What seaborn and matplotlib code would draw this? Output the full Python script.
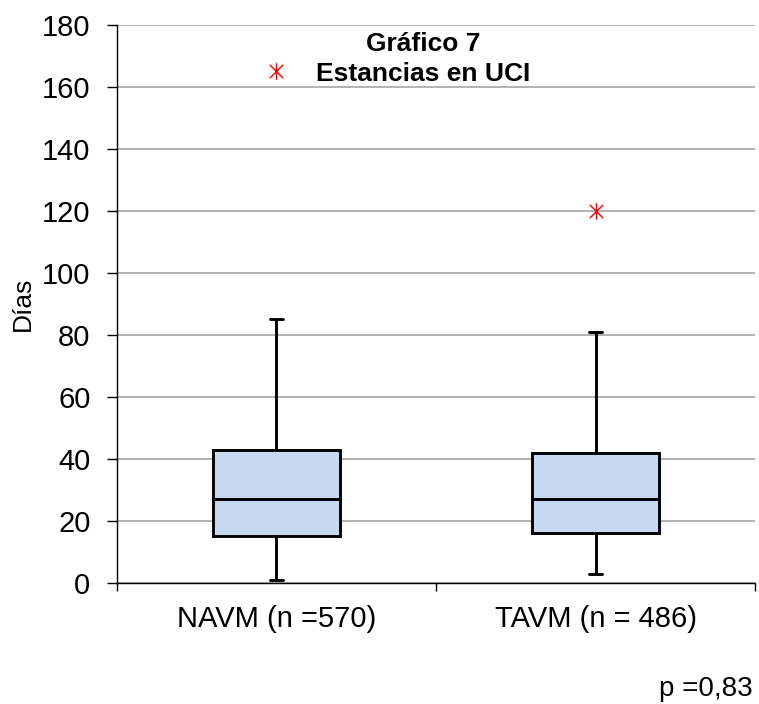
import numpy as np
import pandas as pd
import matplotlib
matplotlib.use('Agg')
import matplotlib.pyplot as plt
import seaborn as sns
from matplotlib.path import Path
from matplotlib.ticker import FixedLocator

# Datos (dias de estancia en UCI)
grupos = ['NAVM (n =570)', 'TAVM (n = 486)']
bigote_inf = [1, 3]
q1 = [15, 16]
mediana = [27, 27]
q3 = [43, 42]
bigote_sup = [85, 81]
atipicos = [165, 120]

y_ticks = list(range(0, 181, 20))

sns.set_style('white')
plt.rcParams['font.family'] = ['Liberation Sans', 'DejaVu Sans']
plt.rcParams['text.color'] = 'black'
plt.rcParams['axes.labelcolor'] = 'black'
plt.rcParams['xtick.color'] = 'black'
plt.rcParams['ytick.color'] = 'black'

# resumen de cinco numeros por grupo -> seaborn calcula la caja
filas = []
for i, g in enumerate(grupos):
    for v in [bigote_inf[i], q1[i], mediana[i], q3[i], bigote_sup[i]]:
        filas.append({'grupo': g, 'dias': v})
df = pd.DataFrame(filas)
df_out = pd.DataFrame({'grupo': grupos, 'dias': atipicos})

# marcador tipo Excel: aspa con linea vertical
M, L = Path.MOVETO, Path.LINETO
estrella = Path([(-1, -1), (1, 1), (-1, 1), (1, -1), (0, -1.25), (0, 1.25)],
                [M, L, M, L, M, L])

fig = plt.figure(figsize=(7.59, 7.04), dpi=100)
ax = fig.add_axes([0.154, 0.172, 0.841, 0.7925])

sns.boxplot(data=df, x='grupo', y='dias', order=grupos, whis=(0, 100),
            width=0.4, color='#c6d9f0', saturation=1, linecolor='black',
            linewidth=2.1, showfliers=False, capwidths=0.04, ax=ax)
sns.stripplot(data=df_out, x='grupo', y='dias', order=grupos, jitter=False,
              marker=estrella, color='red', edgecolor='red', size=12,
              linewidth=1.0, ax=ax)

ax.set_xlim(-0.5, 1.5)
ax.set_ylim(0, 180)
ax.set_yticks(y_ticks)
ax.set_axisbelow(True)
ax.yaxis.grid(True, color='#a6a6a6', linewidth=1.2)
ax.xaxis.grid(False)

for s in ['top', 'right']:
    ax.spines[s].set_visible(False)
for s in ['left', 'bottom']:
    ax.spines[s].set_color('black')
    ax.spines[s].set_linewidth(1.0)

ax.tick_params(axis='y', direction='out', length=7, width=1,
               labelsize=21, pad=12, left=True)
ax.tick_params(axis='x', which='major', length=0, labelsize=21, pad=16)
ax.xaxis.set_minor_locator(FixedLocator([-0.5, 0.5, 1.5]))
ax.tick_params(axis='x', which='minor', direction='out', length=6, width=1,
               bottom=True)

ax.set_xlabel('')
ax.set_ylabel('Días', fontsize=19, labelpad=5)

fig.text(0.557, 0.955, 'Gráfico 7\nEstancias en UCI', ha='center', va='top',
         fontsize=19, fontweight='bold', linespacing=1.35)
fig.text(0.992, 0.003, 'p =0,83', ha='right', va='bottom', fontsize=20)

fig.savefig('out.png', dpi=100)
